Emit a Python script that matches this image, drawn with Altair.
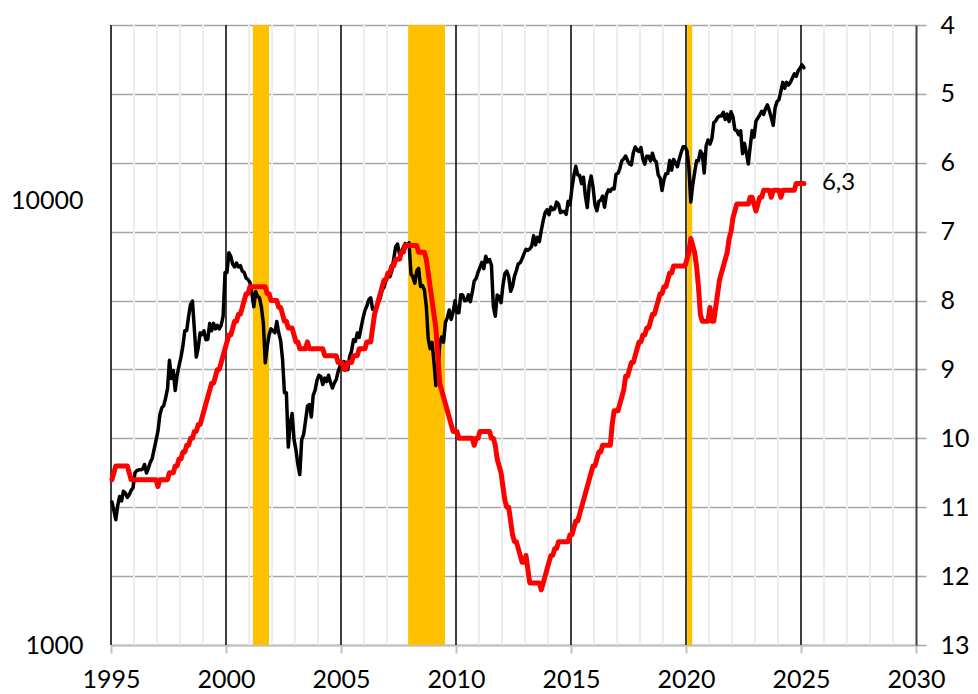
import altair as alt
import pandas as pd

FONT = "Lato"
START_YEAR = 1995

# DAX index, monthly (Jan 1995 .. Feb 2025), left log axis
dax = [
    2100, 2010, 1915, 2060, 2160, 2110, 2220, 2200, 2150, 2180, 2230, 2260,
    2440, 2470, 2480, 2480, 2490, 2550, 2440, 2500, 2580, 2630, 2760, 2890,
    3030, 3300, 3420, 3460, 3600, 3780, 4380, 3980, 4150, 3740, 4050, 4250,
    4450, 4710, 5100, 5110, 5500, 5850, 5950, 5140, 4450, 4670, 5050, 5000,
    5100, 4870, 4880, 5300, 5100, 5300, 5150, 5250, 5150, 5250, 5500, 6900,
    6900, 7640, 7500, 7200, 7100, 7250, 7100, 7150, 6950, 6900, 6700, 6650,
    6550, 6200, 5780, 6250, 6100, 6050, 5750, 5300, 4320, 4700, 5000, 5150,
    5100, 5050, 5350, 5050, 4850, 4400, 3700, 3700, 2790, 3150, 3320, 2900,
    2750, 2550, 2420, 2900, 2980, 3200, 3450, 3480, 3260, 3650, 3750, 3950,
    4050, 4020, 3860, 3990, 3920, 4050, 3900, 3790, 3890, 3960, 4130, 4250,
    4280, 4350, 4300, 4170, 4460, 4590, 4870, 4830, 5040, 4930, 5190, 5450,
    5670, 5800, 5990, 6050, 5700, 5700, 5750, 5900, 6050, 6300, 6400, 6650,
    6800, 6750, 6950, 7400, 7880, 8000, 7600, 7650, 7860, 8020, 7900, 8050,
    6850, 6750, 6530, 6950, 7050, 6420, 6450, 6300, 5800, 4900, 4650, 4800,
    4340, 3840, 4080, 4770, 4940, 4810, 5330, 5460, 5680, 5410, 5620, 5960,
    5610, 5600, 6150, 6140, 5960, 5970, 6150, 5930, 6230, 6600, 6690, 6910,
    7080, 7270, 7040, 7510, 7290, 7380, 7160, 5780, 5500, 6140, 6090, 5900,
    6460, 6860, 6950, 6760, 6260, 6420, 6770, 6970, 7220, 7260, 7410, 7610,
    7780, 7740, 7800, 7910, 8350, 7960, 8280, 8100, 8590, 9030, 9410, 9550,
    9310, 9690, 9560, 9600, 9940, 9830, 9410, 9470, 9470, 9330, 9980, 9810,
    10690, 11400, 11970, 11450, 11410, 10940, 11310, 10260, 9660, 10850, 11380, 10740,
    9800, 9500, 9970, 10040, 10260, 9680, 10340, 10590, 10510, 10670, 10640, 11480,
    11540, 11830, 12310, 12440, 12620, 12330, 12120, 12060, 12830, 13230, 13020, 12920,
    13190, 12440, 12100, 12610, 12600, 12310, 12810, 12360, 12250, 11450, 11260, 10560,
    11170, 11520, 11530, 12340, 11730, 12400, 12190, 11940, 12430, 12870, 13240, 13250,
    12980, 11890, 9940, 10860, 11590, 12310, 12310, 12950, 12760, 11560, 13290, 13720,
    13430, 13790, 15010, 15140, 15420, 15530, 15540, 15840, 15260, 15690, 15100, 15880,
    15470, 14460, 14410, 14100, 14390, 12780, 13480, 12830, 12110, 13250, 14400, 13920,
    15130, 15370, 15630, 15920, 15660, 16150, 16450, 15950, 15390, 14810, 16220, 16750,
    16900, 17680, 18490, 17930, 18500, 18240, 18510, 18910, 19320, 19080, 19630, 19910,
    20250, 19950,
]

# Euro area unemployment rate, %, monthly (Jan 1995 .. Feb 2025), right reversed axis
unemp = [
    10.6, 10.5, 10.4, 10.4, 10.4, 10.4, 10.4, 10.4, 10.4, 10.5, 10.6, 10.6,
    10.6, 10.6, 10.6, 10.6, 10.6, 10.6, 10.6, 10.6, 10.6, 10.6, 10.6, 10.6,
    10.7, 10.6, 10.6, 10.6, 10.6, 10.6, 10.5, 10.5, 10.5, 10.4, 10.4, 10.3,
    10.3, 10.2, 10.2, 10.1, 10.1, 10.0, 10.0, 9.9, 9.9, 9.8, 9.8, 9.7,
    9.6, 9.5, 9.4, 9.3, 9.2, 9.2, 9.1, 9.0, 9.0, 8.9, 8.8, 8.7,
    8.6, 8.5, 8.5, 8.4, 8.3, 8.3, 8.2, 8.2, 8.1, 8.0, 7.9, 7.9,
    7.8, 7.8, 7.8, 7.8, 7.8, 7.8, 7.8, 7.8, 7.8, 7.9, 7.9, 8.0,
    8.0, 8.0, 8.0, 8.1, 8.1, 8.2, 8.3, 8.3, 8.4, 8.4, 8.4, 8.5,
    8.6, 8.6, 8.7, 8.7, 8.7, 8.7, 8.6, 8.7, 8.7, 8.7, 8.7, 8.7,
    8.7, 8.7, 8.7, 8.8, 8.8, 8.8, 8.8, 8.8, 8.8, 8.8, 8.9, 8.9,
    8.9, 9.0, 9.0, 8.9, 8.9, 8.9, 8.8, 8.8, 8.8, 8.7, 8.7, 8.7,
    8.7, 8.6, 8.6, 8.6, 8.4, 8.2, 8.1, 8.0, 7.9, 7.8, 7.7, 7.7,
    7.6, 7.6, 7.5, 7.5, 7.4, 7.4, 7.4, 7.3, 7.3, 7.2, 7.2, 7.2,
    7.2, 7.2, 7.2, 7.2, 7.3, 7.3, 7.3, 7.3, 7.4, 7.6, 7.8, 8.0,
    8.2, 8.4, 8.8, 9.2, 9.3, 9.4, 9.5, 9.6, 9.7, 9.8, 9.9, 9.9,
    9.9, 10.0, 10.0, 10.0, 10.0, 10.0, 10.0, 10.0, 10.0, 10.1, 10.0, 10.0,
    9.9, 9.9, 9.9, 9.9, 9.9, 9.9, 10.0, 10.0, 10.1, 10.3, 10.4, 10.5,
    10.7, 10.9, 11.0, 11.0, 11.2, 11.4, 11.5, 11.5, 11.6, 11.7, 11.8, 11.8,
    11.7, 11.9, 12.1, 12.1, 12.1, 12.1, 12.1, 12.1, 12.2, 12.1, 12.0, 11.9,
    11.8, 11.7, 11.7, 11.6, 11.6, 11.5, 11.5, 11.5, 11.5, 11.5, 11.5, 11.4,
    11.4, 11.3, 11.2, 11.2, 11.1, 11.0, 10.9, 10.8, 10.7, 10.6, 10.5, 10.4,
    10.4, 10.3, 10.2, 10.2, 10.1, 10.1, 10.1, 10.1, 10.1, 9.8, 9.6, 9.6,
    9.6, 9.5, 9.4, 9.3, 9.1, 9.1, 9.0, 8.9, 8.9, 8.8, 8.7, 8.6,
    8.6, 8.5, 8.5, 8.4, 8.4, 8.3, 8.2, 8.2, 8.1, 8.0, 7.9, 7.9,
    7.8, 7.8, 7.7, 7.6, 7.6, 7.5, 7.5, 7.5, 7.5, 7.5, 7.5, 7.5,
    7.4, 7.3, 7.1, 7.2, 7.3, 7.5, 7.8, 8.2, 8.3, 8.3, 8.3, 8.3,
    8.1, 8.3, 8.3, 8.1, 7.9, 7.7, 7.6, 7.5, 7.4, 7.3, 7.1, 7.0,
    6.8, 6.7, 6.6, 6.6, 6.6, 6.6, 6.6, 6.6, 6.6, 6.5, 6.5, 6.6,
    6.7, 6.6, 6.5, 6.5, 6.4, 6.4, 6.4, 6.4, 6.5, 6.4, 6.4, 6.4,
    6.4, 6.5, 6.4, 6.4, 6.4, 6.4, 6.4, 6.4, 6.4, 6.3, 6.3, 6.3,
    6.3, 6.3,
]

# Recession shading (decimal years)
rec_start = [2001.17, 2007.92, 2020.05]
rec_end = [2001.87, 2009.52, 2020.27]

x_ticks = [1995, 2000, 2005, 2010, 2015, 2020, 2025, 2030]
major_years = [1995, 2000, 2005, 2010, 2015, 2020, 2025]
minor_years = [y for y in range(1996, 2030) if y % 5 != 0]
left_ticks = [1000, 10000]
right_ticks = [4, 5, 6, 7, 8, 9, 10, 11, 12, 13]

t = [START_YEAR + (i + 0.5) / 12 for i in range(len(dax))]
df = pd.DataFrame({"t": t, "dax": dax, "u": unemp})
last = df.iloc[[-1]].copy()
last["label"] = last["u"].map(lambda v: f"{v:.1f}".replace(".", ","))

x_scale = alt.Scale(domain=[1995, 2030], nice=False, zero=False)
x_axis = alt.Axis(values=x_ticks, format="d", title=None, grid=False,
                  tickSize=8, tickWidth=2, tickColor="#c0c0c0",
                  domainColor="#c0c0c0", domainWidth=2,
                  labelPadding=14, labelFontSize=25, labelFont=FONT,
                  labelColor="black", labelFlush=False, labelOverlap=False)


def X(field):
    return alt.X(f"{field}:Q", scale=x_scale, axis=x_axis)


right_scale = alt.Scale(domain=[4, 13], reverse=True, nice=False, zero=False)
right_axis = alt.Axis(orient="right", values=right_ticks, title=None,
                      grid=True, gridColor="#a6a6a6", gridWidth=1.5,
                      ticks=True, tickSize=10, tickColor="#a6a6a6", tickWidth=1.5,
                      domain=True, domainColor="#404040", domainWidth=2,
                      labelPadding=14, labelFontSize=25, labelFont=FONT,
                      labelColor="black", labelOverlap=False)

left_scale = alt.Scale(type="log", domain=[1000, 24900], nice=False)
left_axis = alt.Axis(orient="left", values=left_ticks, format="d", title=None,
                     grid=False, ticks=False, tickSize=0, domain=False,
                     labelPadding=28, labelFontSize=25, labelFont=FONT,
                     labelColor="black", labelOverlap=False)

minor = alt.Chart(pd.DataFrame({"yr": minor_years})).mark_rule(
    color="#ededed", strokeWidth=2).encode(x=X("yr"))
major = alt.Chart(pd.DataFrame({"yr": major_years})).mark_rule(
    color="black", strokeWidth=1.5).encode(x=X("yr"))
rec = alt.Chart(pd.DataFrame({"s": rec_start, "e": rec_end})).mark_rect(
    color="#ffc000").encode(x=X("s"), x2="e")

black = alt.Chart(df).mark_line(color="black", strokeWidth=3.5,
                                strokeJoin="round", strokeCap="round").encode(
    x=X("t"), y=alt.Y("dax:Q", scale=left_scale, axis=left_axis))

red = alt.Chart(df).mark_line(color="#ff0000", strokeWidth=5,
                              strokeJoin="round", strokeCap="round").encode(
    x=X("t"), y=alt.Y("u:Q", scale=right_scale, axis=right_axis))
label = alt.Chart(last).mark_text(align="left", dx=18, fontSize=24, font=FONT,
                                  color="black").encode(
    x=X("t"), y=alt.Y("u:Q", scale=right_scale, axis=right_axis), text="label:N")

chart = alt.layer(
    minor, major, rec, black, alt.layer(red, label)
).resolve_scale(y="independent").properties(
    width=805, height=620,
    autosize=alt.AutoSizeParams(type="none"),
    padding={"left": 103, "top": 17, "right": 54, "bottom": 52},
).configure_view(stroke=None).configure(font=FONT)

chart.save("out.html", embed_options={"renderer": "svg", "actions": False})
